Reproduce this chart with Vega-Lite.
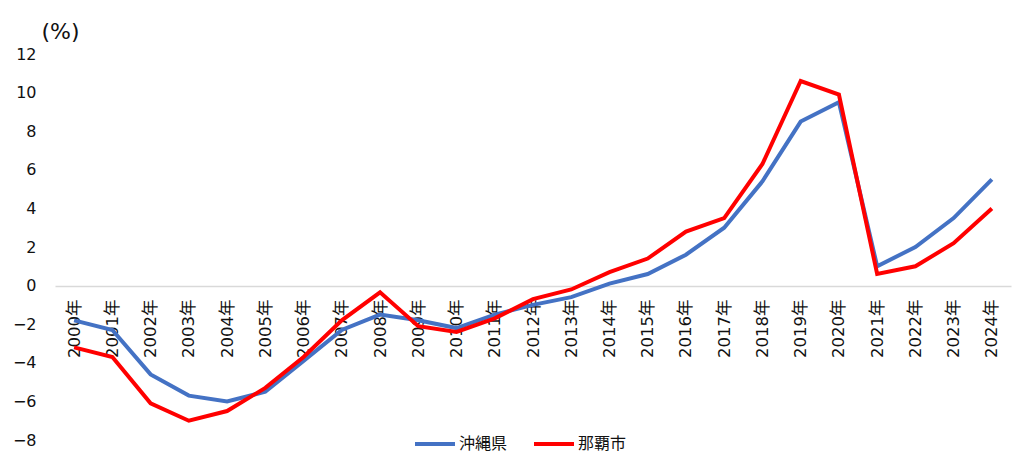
{
  "$schema": "https://vega.github.io/schema/vega-lite/v6.json",
  "description": "沖縄県と那覇市の推移",
  "autosize": "none",
  "width": 956,
  "height": 386,
  "padding": {"left": 55, "top": 54, "right": 13, "bottom": 31},
  "config": {
    "view": {"stroke": null},
    "font": "DejaVu Sans, Noto Sans CJK JP"
  },
  "data": {
    "values": [
      {"year": "2000年", "area": "沖縄県", "value": -1.8},
      {"year": "2001年", "area": "沖縄県", "value": -2.3},
      {"year": "2002年", "area": "沖縄県", "value": -4.6},
      {"year": "2003年", "area": "沖縄県", "value": -5.7},
      {"year": "2004年", "area": "沖縄県", "value": -6.0},
      {"year": "2005年", "area": "沖縄県", "value": -5.5},
      {"year": "2006年", "area": "沖縄県", "value": -3.9},
      {"year": "2007年", "area": "沖縄県", "value": -2.3},
      {"year": "2008年", "area": "沖縄県", "value": -1.5},
      {"year": "2009年", "area": "沖縄県", "value": -1.8},
      {"year": "2010年", "area": "沖縄県", "value": -2.2},
      {"year": "2011年", "area": "沖縄県", "value": -1.5},
      {"year": "2012年", "area": "沖縄県", "value": -1.0},
      {"year": "2013年", "area": "沖縄県", "value": -0.6},
      {"year": "2014年", "area": "沖縄県", "value": 0.1},
      {"year": "2015年", "area": "沖縄県", "value": 0.6},
      {"year": "2016年", "area": "沖縄県", "value": 1.6},
      {"year": "2017年", "area": "沖縄県", "value": 3.0},
      {"year": "2018年", "area": "沖縄県", "value": 5.4},
      {"year": "2019年", "area": "沖縄県", "value": 8.5},
      {"year": "2020年", "area": "沖縄県", "value": 9.5},
      {"year": "2021年", "area": "沖縄県", "value": 1.0},
      {"year": "2022年", "area": "沖縄県", "value": 2.0},
      {"year": "2023年", "area": "沖縄県", "value": 3.5},
      {"year": "2024年", "area": "沖縄県", "value": 5.5},
      {"year": "2000年", "area": "那覇市", "value": -3.2},
      {"year": "2001年", "area": "那覇市", "value": -3.7},
      {"year": "2002年", "area": "那覇市", "value": -6.1},
      {"year": "2003年", "area": "那覇市", "value": -7.0},
      {"year": "2004年", "area": "那覇市", "value": -6.5},
      {"year": "2005年", "area": "那覇市", "value": -5.3},
      {"year": "2006年", "area": "那覇市", "value": -3.7},
      {"year": "2007年", "area": "那覇市", "value": -1.8},
      {"year": "2008年", "area": "那覇市", "value": -0.35},
      {"year": "2009年", "area": "那覇市", "value": -2.1},
      {"year": "2010年", "area": "那覇市", "value": -2.4},
      {"year": "2011年", "area": "那覇市", "value": -1.7},
      {"year": "2012年", "area": "那覇市", "value": -0.7},
      {"year": "2013年", "area": "那覇市", "value": -0.2},
      {"year": "2014年", "area": "那覇市", "value": 0.7},
      {"year": "2015年", "area": "那覇市", "value": 1.4},
      {"year": "2016年", "area": "那覇市", "value": 2.8},
      {"year": "2017年", "area": "那覇市", "value": 3.5},
      {"year": "2018年", "area": "那覇市", "value": 6.3},
      {"year": "2019年", "area": "那覇市", "value": 10.6},
      {"year": "2020年", "area": "那覇市", "value": 9.9},
      {"year": "2021年", "area": "那覇市", "value": 0.6},
      {"year": "2022年", "area": "那覇市", "value": 1.0},
      {"year": "2023年", "area": "那覇市", "value": 2.2},
      {"year": "2024年", "area": "那覇市", "value": 4.0}
    ]
  },
  "mark": {"type": "line", "strokeWidth": 4, "strokeJoin": "miter"},
  "encoding": {
    "x": {
      "field": "year",
      "type": "ordinal",
      "scale": {"type": "point", "padding": 0.5},
      "axis": {
        "title": null,
        "offset": -154,
        "labelAngle": -90,
        "labelFontSize": 16.5,
        "labelColor": "#111",
        "labelPadding": 13,
        "ticks": false,
        "domainColor": "#d9d9d9",
        "domainWidth": 1.5,
        "zindex": 0
      }
    },
    "y": {
      "field": "value",
      "type": "quantitative",
      "scale": {"domain": [-8, 12], "nice": false, "zero": false},
      "axis": {
        "values": [-8, -6, -4, -2, 0, 2, 4, 6, 8, 10, 12],
        "grid": false,
        "domain": false,
        "ticks": false,
        "labelFontSize": 16,
        "labelColor": "#111",
        "labelPadding": 19,
        "title": "(%)",
        "titleAngle": 0,
        "titleFontSize": 22,
        "titleFontWeight": "normal",
        "titleColor": "#111",
        "titleAlign": "left",
        "titleBaseline": "middle",
        "titleX": -14,
        "titleY": -23
      }
    },
    "color": {
      "field": "area",
      "type": "nominal",
      "sort": ["沖縄県", "那覇市"],
      "scale": {"domain": ["沖縄県", "那覇市"], "range": ["#4472C4", "#FF0000"]},
      "legend": {
        "title": null,
        "orient": "none",
        "direction": "horizontal",
        "legendX": 358,
        "legendY": 368,
        "symbolType": "stroke",
        "symbolSize": 1600,
        "symbolStrokeWidth": 4,
        "labelFontSize": 16,
        "labelColor": "#111",
        "labelOffset": 2,
        "columnPadding": 18
      }
    }
  }
}
